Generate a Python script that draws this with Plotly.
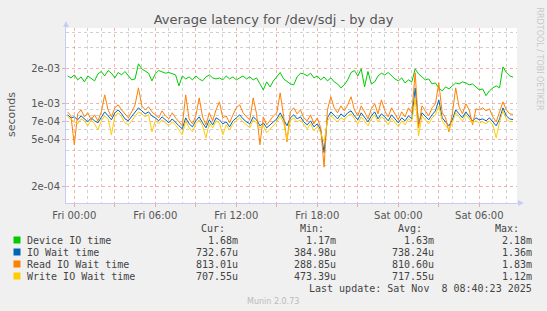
import math
import pandas as pd
import plotly.graph_objects as go

# ---------------- data (values in microseconds, 15-minute samples) ----------------
times = pd.date_range("2025-11-06 23:30", periods=133, freq="15min")

device_us = [
    1721, 1655, 1755, 1592, 1688, 1531, 1721, 1623, 1561, 1790,
    1876, 1721, 1912, 1815, 1655, 1840, 1755, 1876, 1721, 1592,
    1623, 2180, 1973, 1876, 1815, 1561, 1790, 1912, 1876, 1815,
    1840, 1790, 1755, 1416, 1721, 1623, 1688, 1592, 1721, 1623,
    1561, 1688, 1755, 1655, 1623, 1655, 1592, 1721, 1623, 1688,
    1592, 1655, 1721, 1623, 1688, 1592, 1655, 1472, 1309, 1531,
    1389, 1561, 1688, 1840, 1623, 1531, 1472, 1444, 1688, 1815,
    1790, 1721, 1815, 1655, 1721, 1592, 1688, 1561, 1655, 1531,
    1472, 1362, 1444, 1592, 1840, 1912, 1721, 1973, 1389, 1876,
    1472, 1531, 1721, 1815, 1755, 1840, 1721, 1623, 1561, 1655,
    1501, 1592, 1531, 1973, 1790, 1688, 1592, 1623, 1472, 1501,
    1362, 1284, 1389, 1335, 1416, 1501, 1472, 1531, 1501, 1444,
    1472, 1389, 1309, 1335, 1170, 1284, 1362, 1416, 1362, 2052,
    1840, 1721, 1680,
]
iowait_us = [
    804, 758, 773, 729, 788, 743, 701, 758, 715, 688,
    773, 852, 788, 729, 836, 886, 820, 743, 715, 773,
    852, 922, 869, 820, 852, 788, 758, 715, 773, 729,
    688, 743, 701, 649, 612, 758, 675, 636, 715, 773,
    688, 624, 729, 661, 758, 729, 675, 701, 636, 715,
    758, 804, 743, 701, 675, 773, 729, 649, 688, 624,
    661, 701, 743, 836, 729, 649, 758, 804, 743, 773,
    701, 661, 715, 636, 675, 600, 385, 758, 852, 788,
    743, 820, 773, 836, 869, 788, 729, 836, 758, 701,
    788, 852, 743, 820, 773, 715, 804, 743, 688, 758,
    715, 788, 743, 1360, 675, 836, 773, 729, 804, 869,
    1077, 758, 701, 649, 729, 886, 820, 758, 852, 788,
    715, 758, 729, 743, 715, 758, 701, 649, 743, 922,
    788, 743, 733,
]
read_us = [
    852, 788, 448, 820, 886, 773, 836, 729, 804, 715,
    852, 1188, 886, 773, 922, 978, 886, 820, 758, 852,
    978, 1362, 958, 886, 940, 852, 804, 758, 869, 788,
    743, 836, 758, 701, 649, 1188, 743, 675, 788, 1120,
    773, 661, 836, 715, 886, 1036, 758, 788, 688, 804,
    922, 978, 836, 773, 729, 1120, 820, 448, 773, 661,
    729, 788, 836, 1235, 788, 475, 852, 922, 820, 886,
    758, 715, 804, 675, 758, 624, 289, 886, 1145, 922,
    836, 958, 869, 978, 1145, 886, 788, 958, 852, 743,
    904, 998, 820, 1077, 869, 773, 922, 820, 729, 852,
    773, 922, 836, 1830, 624, 958, 869, 788, 922, 998,
    1501, 836, 758, 577, 820, 1362, 940, 820, 998, 886,
    661, 904, 886, 922, 869, 904, 773, 701, 852, 1036,
    886, 820, 813,
]
write_us = [
    773, 729, 701, 675, 743, 715, 649, 729, 675, 600,
    715, 788, 743, 544, 788, 836, 773, 688, 661, 715,
    788, 852, 820, 773, 804, 577, 715, 675, 729, 688,
    649, 701, 661, 600, 544, 715, 624, 577, 675, 729,
    649, 513, 688, 624, 715, 688, 544, 661, 600, 675,
    715, 758, 701, 661, 624, 729, 688, 624, 649, 566,
    612, 661, 701, 788, 688, 494, 715, 758, 701, 729,
    661, 612, 675, 588, 636, 566, 475, 715, 788, 743,
    701, 758, 729, 788, 820, 743, 675, 773, 715, 649,
    743, 804, 701, 773, 729, 661, 758, 701, 636, 715,
    661, 743, 701, 1120, 533, 788, 729, 675, 758, 804,
    958, 715, 649, 600, 688, 836, 773, 715, 804, 743,
    688, 715, 688, 701, 675, 715, 661, 513, 701, 869,
    743, 701, 708,
]

series_names = ["Device IO time", "IO Wait time", "Read IO Wait time", "Write IO Wait time"]
series_colors = ["#00CC00", "#0066B3", "#FF8000", "#FFCC00"]
cur_text = ["1.68m", "732.67u", "813.01u", "707.55u"]
min_text = ["1.17m", "384.98u", "288.85u", "473.39u"]
avg_text = ["1.63m", "738.24u", "810.60u", "717.55u"]
max_text = ["2.18m", "1.36m", "1.83m", "1.12m"]

y_tickvals = [2e-4, 5e-4, 7e-4, 1e-3, 2e-3]
y_ticktext = ["2e-04", "5e-04", "7e-04", "1e-03", "2e-03"]
y_minorvals = [3e-4, 4e-4, 6e-4, 8e-4, 9e-4, 3e-3, 4e-3]

x_tickvals = list(pd.date_range("2025-11-07 00:00", "2025-11-08 06:00", freq="3h"))
x_ticktext = ["Fri 00:00", "", "Fri 06:00", "", "Fri 12:00", "", "Fri 18:00", "",
              "Sat 00:00", "", "Sat 06:00"]
x_minorvals = [t for t in pd.date_range("2025-11-07 00:00", "2025-11-08 08:00", freq="1h")
               if t.hour % 3 != 0]

# ---------------- geometry ----------------
W, H = 547, 311
L, R, T, B = 66, 517, 28, 203


def fx(px):
    return (px - L) / (R - L)


def fy(py):
    return (B - py) / (B - T)


fig = go.Figure()
for name, color, vals in zip(series_names, series_colors,
                             [device_us, iowait_us, read_us, write_us]):
    fig.add_trace(go.Scatter(
        x=times, y=[v * 1e-6 for v in vals], mode="lines", name=name,
        line=dict(color=color, width=1), showlegend=False, hoverinfo="skip"))

RED = "rgba(235,110,110,0.55)"
GRAY = "rgba(170,170,170,0.55)"
AXIS = "#C8CCF4"
TXT = "#555555"

fig.update_layout(
    width=W, height=H,
    margin=dict(l=L, r=W - R, t=T, b=H - B, pad=0),
    paper_bgcolor="#F0F0F0", plot_bgcolor="#FFFFFF",
    font=dict(family="DejaVu Sans", color=TXT),
    title=dict(text="Average latency for /dev/sdj - by day", x=0.5, xref="container",
               xanchor="center", y=1 - 19.5 / H, yref="container", yanchor="middle",
               font=dict(family="DejaVu Sans", size=13, color=TXT)),
    xaxis=dict(type="date", range=["2025-11-06 23:23:00", "2025-11-08 08:47:30"],
               tickmode="array", tickvals=x_tickvals, ticktext=x_ticktext,
               showgrid=True, gridcolor=RED, griddash="dot", gridwidth=1,
               ticks="outside", ticklen=3, tickcolor=RED,
               tickfont=dict(family="DejaVu Sans", size=10, color=TXT),
               showline=True, linecolor=AXIS, linewidth=1, zeroline=False,
               minor=dict(tickvals=x_minorvals, showgrid=True, gridcolor=GRAY,
                          griddash="dot", gridwidth=1, ticks=""),
               fixedrange=True),
    yaxis=dict(type="log", range=[math.log10(1.435e-4), math.log10(4.39e-3)],
               tickmode="array", tickvals=y_tickvals, ticktext=y_ticktext,
               showgrid=True, gridcolor=RED, griddash="dot", gridwidth=1,
               ticks="outside", ticklen=3, tickcolor=RED,
               tickfont=dict(family="DejaVu Sans", size=10, color=TXT),
               showline=True, linecolor=AXIS, linewidth=1, zeroline=False,
               minor=dict(tickvals=y_minorvals, showgrid=True, gridcolor=GRAY,
                          griddash="dot", gridwidth=1, ticks=""),
               fixedrange=True),
)

shapes = []
# axis extensions and arrow heads
shapes.append(dict(type="line", xref="paper", yref="paper", x0=fx(66), x1=fx(66),
                   y0=fy(28), y1=fy(25), line=dict(color=AXIS, width=1)))
shapes.append(dict(type="path", xref="paper", yref="paper",
                   path=f"M {fx(63)} {fy(27)} L {fx(69)} {fy(27)} L {fx(66)} {fy(21)} Z",
                   fillcolor=AXIS, line=dict(width=0)))
shapes.append(dict(type="line", xref="paper", yref="paper", x0=fx(517), x1=fx(519),
                   y0=fy(203), y1=fy(203), line=dict(color=AXIS, width=1)))
shapes.append(dict(type="path", xref="paper", yref="paper",
                   path=f"M {fx(518)} {fy(200)} L {fx(518)} {fy(206)} L {fx(524)} {fy(203)} Z",
                   fillcolor=AXIS, line=dict(width=0)))

annotations = []
MONO = dict(family="DejaVu Sans Mono", size=10, color="#444444")


def add_text(text, px, py, anchor="left", font=MONO):
    annotations.append(dict(text=text, x=fx(px), y=fy(py), xref="paper", yref="paper",
                            xanchor=anchor, yanchor="middle", showarrow=False,
                            font=font, borderpad=0))


# headers
for txt, xr in zip(["Cur:", "Min:", "Avg:", "Max:"], [226, 325, 423, 520]):
    add_text(txt, xr, 228, "right")

row_y = [240, 252, 264, 276]
for i in range(4):
    yy = row_y[i]
    shapes.append(dict(type="rect", xref="paper", yref="paper",
                       x0=fx(13.5), x1=fx(20.5), y0=fy(yy + 3.5), y1=fy(yy - 3.5),
                       fillcolor=series_colors[i], line=dict(width=0)))
    add_text(series_names[i], 26, yy, "left")
    add_text(cur_text[i], 239, yy, "right")
    add_text(min_text[i], 337, yy, "right")
    add_text(avg_text[i], 435, yy, "right")
    add_text(max_text[i], 533, yy, "right")

add_text("Last update: Sat Nov  8 08:40:23 2025", 533, 288, "right")
add_text("Munin 2.0.73", 273, 301, "center",
         font=dict(family="DejaVu Sans", size=8, color="#BBBBBB"))

# y axis title
annotations.append(dict(text="seconds", x=fx(11), y=fy(115), xref="paper", yref="paper",
                        xanchor="center", yanchor="middle", textangle=-90, showarrow=False,
                        font=dict(family="DejaVu Sans", size=11, color=TXT)))
# rrdtool watermark
annotations.append(dict(text="RRDTOOL / TOBI OETIKER", x=fx(539), y=fy(5), xref="paper",
                        yref="paper", xanchor="center", yanchor="top", textangle=90,
                        showarrow=False,
                        font=dict(family="DejaVu Sans", size=8, color="#C8C8C8")))

fig.update_layout(shapes=shapes, annotations=annotations)
fig.write_html("out.html", config=dict(displayModeBar=False, staticPlot=True))
